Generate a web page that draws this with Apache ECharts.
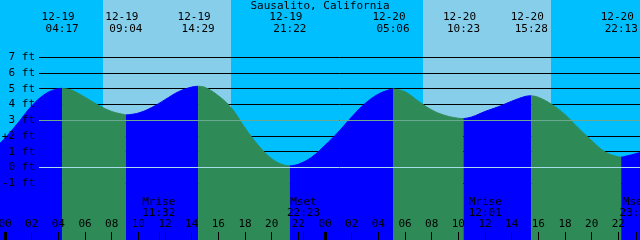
<!DOCTYPE html>
<html><head><meta charset="utf-8">
<script src="https://cdn.jsdelivr.net/npm/echarts@6/dist/echarts.min.js"></script>
<style>html,body{margin:0;padding:0;background:#00BFFF}#c{width:640px;height:240px}</style>
</head><body><div id="c"></div>
<script>
const chartTitle = 'Sausalito, California';
// tide height (ft), hours since 12-19 00:00
const tideHours = [-0.375, 0, 1, 2, 3, 4, 4.283, 5, 6, 7, 8, 9, 9.067, 10, 11, 12, 13, 14, 14.483, 15, 16, 17, 18, 19, 20, 21, 21.367, 22, 23, 24, 25, 26, 27, 28, 29, 29.1, 30, 31, 32, 33, 34, 34.383, 35, 36, 37, 38, 39, 39.467, 40, 41, 42, 43, 44, 45, 46, 46.217, 47, 47.625];
const tideFeet  = [1.54, 1.85, 2.85, 3.9, 4.65, 5.0, 5.02, 4.9, 4.45, 3.95, 3.55, 3.34, 3.33, 3.45, 3.8, 4.3, 4.8, 5.1, 5.15, 5.08, 4.55, 3.75, 2.5, 1.4, 0.55, 0.13, 0.1, 0.2, 0.65, 1.4, 2.25, 3.2, 4.05, 4.65, 4.97, 4.98, 4.8, 4.2, 3.65, 3.3, 3.12, 3.1, 3.2, 3.55, 3.85, 4.2, 4.5, 4.55, 4.45, 4.0, 3.35, 2.5, 1.7, 0.98, 0.67, 0.65, 0.8, 0.95];
// tide events
const eventDay   = [0, 0, 0, 0, 1, 1, 1, 1];
const eventDate  = ['12-19', '12-19', '12-19', '12-19', '12-20', '12-20', '12-20', '12-20'];
const eventClock = ['04:17', '09:04', '14:29', '21:22', '05:06', '10:23', '15:28', '22:13'];
const eventKind  = ['high', 'low', 'high', 'low', 'high', 'low', 'high', 'low'];
// sun
const sunDay     = [0, 1];
const sunriseClock = ['07:21', '07:21'];
const sunsetClock  = ['16:57', '16:57'];
// moon
const moonDay   = [0, 0, 1, 1];
const moonKind  = ['Mrise', 'Mset', 'Mrise', 'Mset'];
const moonClock = ['11:32', '22:23', '12:01', '23:20'];
// axes
const hourTicks = [0, 2, 4, 6, 8, 10, 12, 14, 16, 18, 20, 22, 24, 26, 28, 30, 32, 34, 36, 38, 40, 42, 44, 46];
const midnightTicks = [0, 24];
const feetTicks = [-1, 0, 1, 2, 3, 4, 5, 6, 7];
const xMin = -0.375, xMax = 47.625;
const yMin = -4.61, yMax = 10.629;

function toHours(day, clock) { const p = clock.split(':'); return day * 24 + (+p[0]) + (+p[1]) / 60; }
const eventHours = eventClock.map((c, i) => toHours(eventDay[i], c));
const moonHours = moonClock.map((c, i) => toHours(moonDay[i], c));

const FONT = '"DejaVu Sans Mono", "Liberation Mono", monospace';
const BLUE = '#0000FF', GREEN = '#2E8B57';

const points = tideHours.map((h, i) => [h, tideFeet[i]]);
const bounds = [xMin].concat(eventHours, [xMax]);
const segSeries = [];
for (let i = 0; i < bounds.length - 1; i++) {
  const a = bounds[i] - 0.01, b = bounds[i + 1] + 0.01;
  const seg = points.filter(p => p[0] >= a && p[0] <= b);
  let rising;
  if (i < eventKind.length) rising = eventKind[i] === 'high';
  else rising = eventKind[eventKind.length - 1] === 'low';
  const col = rising ? BLUE : GREEN;
  segSeries.push({
    type: 'line', xAxisIndex: 0, yAxisIndex: 0, data: seg, smooth: 0.4,
    showSymbol: false, silent: true, z: 3, animation: false,
    lineStyle: { color: col, width: 1 },
    areaStyle: { color: col, opacity: 1, origin: 'start' }
  });
}

const dayAreas = sunDay.map((d, i) => [{ xAxis: toHours(d, sunriseClock[i]) }, { xAxis: toHours(d, sunsetClock[i]) }]);

const full = { left: 0, right: 0, top: 0, bottom: 0, containLabel: false, outerBoundsMode: 'none' };
const inner = { left: 39, right: 0, top: 57.15, bottom: 56.85, containLabel: false, outerBoundsMode: 'none' };
const noLine = { show: false, onZero: false };

const chart = echarts.init(document.getElementById('c'), null, { renderer: 'canvas' });
const option = {
  backgroundColor: '#00BFFF',
  animation: false,
  grid: [ full, inner, Object.assign({}, full), Object.assign({}, inner) ],
  xAxis: [
    { type: 'value', gridIndex: 0, position: 'bottom', min: xMin, max: xMax, z: 6,
      axisLine: noLine, splitLine: { show: false },
      axisTick: { inside: true, length: 8, lineStyle: { color: '#000', width: 1 }, customValues: hourTicks.concat(moonHours) },
      axisLabel: { inside: true, margin: 10, customValues: hourTicks, color: '#000', fontFamily: FONT, fontSize: 11,
        formatter: v => String(((Math.round(v) % 24) + 24) % 24).padStart(2, '0') } },
    { type: 'value', gridIndex: 1, min: 0, max: 1, show: false, axisLine: noLine },
    { type: 'value', gridIndex: 2, position: 'bottom', min: xMin, max: xMax, z: 6,
      axisLine: noLine, splitLine: { show: false }, axisLabel: { show: false },
      axisTick: { inside: true, length: 8, lineStyle: { color: '#000', width: 3 }, customValues: midnightTicks } },
    { type: 'value', gridIndex: 3, min: 0, max: 1, show: false, axisLine: noLine }
  ],
  yAxis: [
    { type: 'value', gridIndex: 0, min: yMin, max: yMax, show: false, axisLine: noLine },
    { type: 'value', gridIndex: 1, position: 'left', min: feetTicks[0], max: feetTicks[feetTicks.length - 1], interval: 1, z: 2,
      axisLine: noLine, axisTick: { show: false }, axisLabel: { show: false },
      splitLine: { show: true, lineStyle: { color: '#000', width: 1 } } },
    { type: 'value', gridIndex: 2, min: 0, max: 1, show: false, axisLine: noLine },
    { type: 'value', gridIndex: 3, position: 'left', min: feetTicks[0], max: feetTicks[feetTicks.length - 1], interval: 1, z: 6,
      axisLine: noLine, axisTick: { show: false }, splitLine: { show: false },
      axisLabel: { show: true, margin: 4, color: '#000', fontFamily: FONT, fontSize: 11, formatter: '{value} ft' } }
  ],
  series: [
    { type: 'line', xAxisIndex: 0, yAxisIndex: 0, data: [], silent: true, z: 0,
      markArea: { silent: true, z: 0, itemStyle: { color: '#87CEEB', opacity: 1 }, data: dayAreas } }
  ].concat(segSeries, [
    { type: 'line', xAxisIndex: 1, yAxisIndex: 1, data: [], silent: true, z: 4,
      markLine: { silent: true, z: 4, symbol: 'none', label: { show: false }, animation: false,
        data: [
          { yAxis: 3, lineStyle: { color: '#6aa890', width: 1, type: 'solid' } },
          { yAxis: 0, lineStyle: { color: '#a8dcec', width: 1, type: 'solid' } }
        ] } }
  ])
};
chart.setOption(option);

const texts = [];
function txt(s, x, y) {
  texts.push({ type: 'text', x: x, y: y, z: 100, silent: true,
    style: { text: s, fill: '#000', font: '11px ' + FONT, textAlign: 'center', textVerticalAlign: 'middle' } });
}
txt(chartTitle, 320, 6);
eventHours.forEach((h, i) => {
  const px = chart.convertToPixel({ xAxisIndex: 0 }, h);
  txt(eventDate[i], px - 4, 17);
  txt(eventClock[i], px, 29);
});
moonHours.forEach((h, i) => {
  const px = chart.convertToPixel({ xAxisIndex: 0 }, h);
  txt(moonKind[i], px, 202);
  txt(moonClock[i], px, 213.5);
});
txt('+', 5, 137);
chart.setOption({ graphic: { elements: texts } });
</script></body></html>
